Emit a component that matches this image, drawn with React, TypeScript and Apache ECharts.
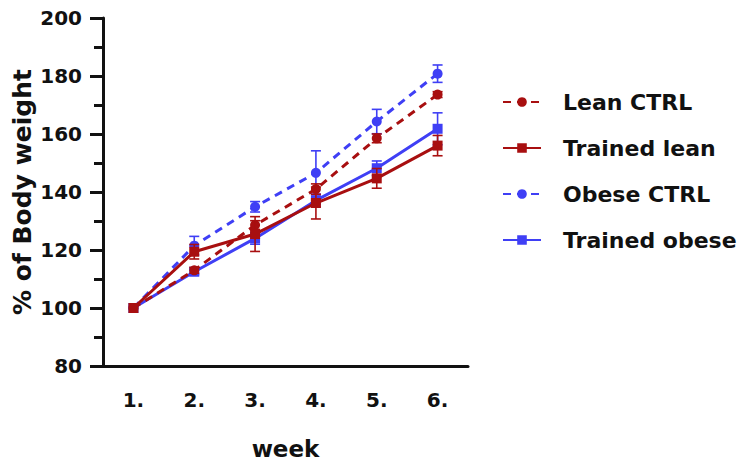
import React, { useEffect, useRef } from "react";
import * as echarts from "echarts";

const weeks = ["1.", "2.", "3.", "4.", "5.", "6."];
const leanCtrl = [100, 113, 128.6, 141, 158.5, 173.6];
const leanCtrlErr = [0, 1, 1.5, 1.8, 1.5, 1];
const trainedLean = [100, 119.4, 125.5, 136.2, 144.7, 156];
const trainedLeanErr = [0, 2.5, 6, 5.5, 3.4, 3.5];
const obeseCtrl = [100, 121.5, 134.9, 146.6, 164.3, 180.8];
const obeseCtrlErr = [0, 3.2, 1.8, 7.6, 4.2, 3];
const trainedObese = [100, 112.5, 124, 137.1, 148.2, 161.8];
const trainedObeseErr = [0, 1, 2, 2.2, 2.5, 5.5];
const seriesNames = ["Lean CTRL", "Trained lean", "Obese CTRL", "Trained obese"];

const RED = "#a80f10";
const BLUE = "#3f3ff5";
const FONT = "DejaVu Sans";

function errData(vals: number[], errs: number[]) {
  return vals.map((v, i) => [i, v - errs[i], v + errs[i]]);
}

function errSeries(name: string, vals: number[], errs: number[], color: string, z: number) {
  return {
    type: "custom",
    name: name + " err",
    z,
    silent: true,
    data: errData(vals, errs),
    encode: { x: 0, y: [1, 2] },
    renderItem: (params: any, api: any) => {
      const x = api.value(0);
      const lo = api.coord([x, api.value(1)]);
      const hi = api.coord([x, api.value(2)]);
      if (Math.abs(hi[1] - lo[1]) < 0.5) return { type: "group", children: [] };
      const w = 5;
      const style = { stroke: color, lineWidth: 1.6 };
      return {
        type: "group",
        children: [
          { type: "line", shape: { x1: lo[0], y1: lo[1], x2: hi[0], y2: hi[1] }, style },
          { type: "line", shape: { x1: lo[0] - w, y1: lo[1], x2: lo[0] + w, y2: lo[1] }, style },
          { type: "line", shape: { x1: hi[0] - w, y1: hi[1], x2: hi[0] + w, y2: hi[1] }, style },
        ],
      };
    },
  };
}

function lineSeries(name: string, vals: number[], color: string, dashed: boolean, symbol: string, z: number) {
  return {
    type: "line",
    name,
    z,
    data: vals,
    symbol,
    symbolSize: 10,
    lineStyle: { color, width: 3, type: dashed ? [8, 6] : "solid" },
    itemStyle: { color },
  };
}

export default function App() {
  const ref = useRef<HTMLDivElement>(null);
  useEffect(() => {
    if (!ref.current) return;
    const chart = echarts.init(ref.current, undefined, { renderer: "svg" });
    chart.setOption({
      animation: false,
      backgroundColor: "#ffffff",
      grid: { left: 103, right: 280, top: 18, bottom: 102 },
      legend: {
        orient: "vertical",
        left: 497,
        top: 86,
        data: seriesNames,
        itemWidth: 38,
        itemHeight: 12,
        itemGap: 24,
        textStyle: { fontFamily: FONT, fontWeight: "bold", fontSize: 22, color: "#111", padding: [0, 0, 0, 17] },
      },
      xAxis: {
        type: "category",
        data: weeks,
        boundaryGap: true,
        name: "week",
        nameLocation: "middle",
        nameGap: 71,
        nameTextStyle: { fontFamily: FONT, fontWeight: "bold", fontSize: 23, color: "#111" },
        axisLine: { lineStyle: { color: "#111", width: 3 } },
        axisTick: { alignWithLabel: true, length: 13, lineStyle: { color: "#111", width: 3 } },
        axisLabel: { fontFamily: FONT, fontWeight: "bold", fontSize: 20, color: "#111", margin: 24 },
        splitLine: { show: false },
      },
      yAxis: {
        type: "value",
        min: 80,
        max: 200,
        interval: 20,
        name: "% of Body weight",
        nameLocation: "middle",
        nameRotate: 90,
        nameGap: 68,
        nameTextStyle: { fontFamily: FONT, fontWeight: "bold", fontSize: 25, color: "#111" },
        axisLine: { show: true, lineStyle: { color: "#111", width: 3 } },
        axisTick: { show: true, length: 13, lineStyle: { color: "#111", width: 3 } },
        minorTick: { show: true, splitNumber: 2, length: 9, lineStyle: { color: "#111", width: 3 } },
        axisLabel: { fontFamily: FONT, fontWeight: "bold", fontSize: 20, color: "#111", margin: 21 },
        splitLine: { show: false },
      },
      series: [
        lineSeries("Obese CTRL", obeseCtrl, BLUE, true, "circle", 2),
        lineSeries("Trained obese", trainedObese, BLUE, false, "rect", 3),
        lineSeries("Lean CTRL", leanCtrl, RED, true, "circle", 4),
        lineSeries("Trained lean", trainedLean, RED, false, "rect", 5),
        errSeries("Obese CTRL", obeseCtrl, obeseCtrlErr, BLUE, 2),
        errSeries("Trained obese", trainedObese, trainedObeseErr, BLUE, 3),
        errSeries("Lean CTRL", leanCtrl, leanCtrlErr, RED, 4),
        errSeries("Trained lean", trainedLean, trainedLeanErr, RED, 5),
      ],
    });
    return () => chart.dispose();
  }, []);
  return <div ref={ref} style={{ width: 748, height: 468, position: "absolute", left: 0, top: 0 }} />;
}
